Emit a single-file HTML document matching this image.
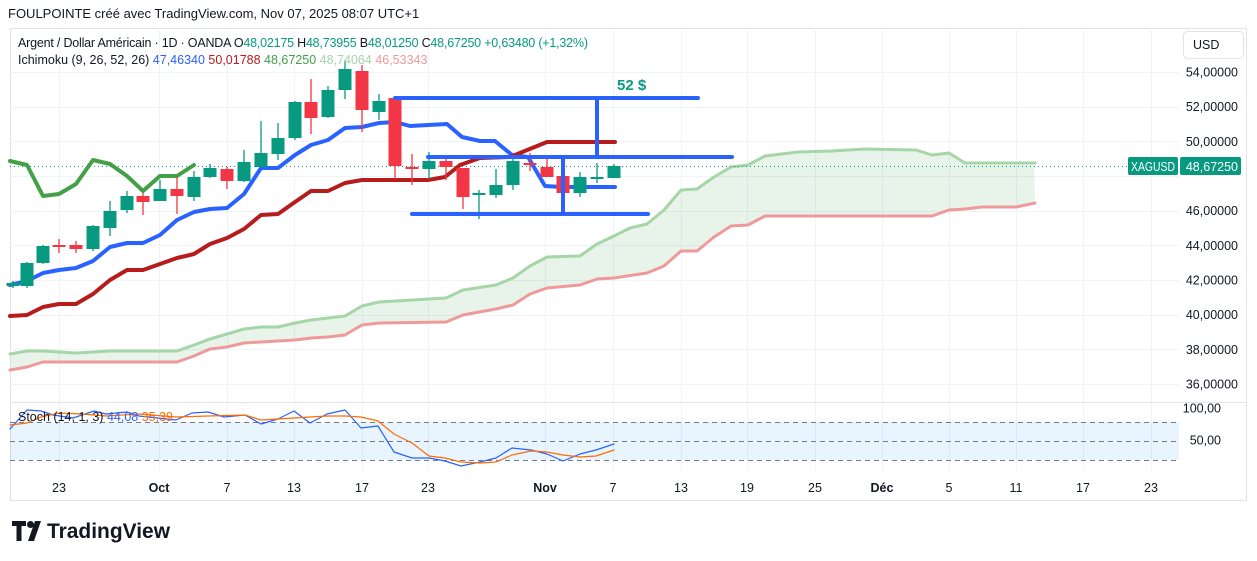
<!DOCTYPE html>
<html><head><meta charset="utf-8"><style>
body{margin:0;width:1257px;height:561px;background:#fff;overflow:hidden;font-family:"Liberation Sans",Arial,sans-serif;}
svg{position:absolute;left:0;top:0}
text{font-family:"Liberation Sans",Arial,sans-serif}
</style></head><body>
<svg id="s" width="1257" height="561" xmlns="http://www.w3.org/2000/svg">
<rect x="10.5" y="28.5" width="1236" height="472" fill="#fff" stroke="#e0e3eb"/>
<g id="grid" stroke="#f0f3fa" stroke-width="1"></g>
<line x1="10" y1="402.5" x2="1246" y2="402.5" stroke="#e0e3eb"/>
<g id="main"></g>
<text x="8" y="18" font-size="13" fill="#131722">FOULPOINTE créé avec TradingView.com, Nov 07, 2025 08:07 UTC+1</text>
<text x="18" y="47" font-size="12.5" fill="#131722" textLength="570" lengthAdjust="spacing">Argent / Dollar Américain · 1D · OANDA  O<tspan fill="#089981">48,02175</tspan>  H<tspan fill="#089981">48,73955</tspan>  B<tspan fill="#089981">48,01250</tspan>  C<tspan fill="#089981">48,67250</tspan>  <tspan fill="#089981">+0,63480 (+1,32%)</tspan></text>
<text x="18" y="64" font-size="12.5" fill="#131722">Ichimoku (9, 26, 52, 26) <tspan fill="#2962ff">47,46340</tspan> <tspan fill="#b71c1c">50,01788</tspan> <tspan fill="#43a047">48,67250</tspan> <tspan fill="#a5d6a7">48,74064</tspan> <tspan fill="#ef9a9a">46,53343</tspan></text>
<text x="18" y="421" font-size="12.5" fill="#131722">Stoch (14, 1, 3) <tspan fill="#2962ff">44,08</tspan> <tspan fill="#ff6d00">35,39</tspan></text>
<rect x="1183.5" y="31.5" width="60" height="27" rx="4" fill="#fff" stroke="#e0e3eb"/>
<text x="1193" y="49" font-size="12.5" fill="#131722">USD</text>
<g id="axis" font-size="12.5" fill="#131722" text-anchor="end"></g>
<rect x="1128" y="157" width="50" height="18" rx="2" fill="#089981"/>
<text x="1131" y="171" font-size="12.5" fill="#fff" textLength="44" lengthAdjust="spacingAndGlyphs">XAGUSD</text>
<rect x="1180" y="157" width="61" height="18" rx="2" fill="#089981"/>
<text x="1238" y="171" font-size="12.5" fill="#fff" text-anchor="end">48,67250</text>
<g id="time" font-size="12.5" fill="#131722" text-anchor="middle"></g>
<g transform="translate(12,521)" fill="#131722">
<path d="M0 0h14v5h-4.5v15h-5v-15h-4.5z"/>
<circle cx="18.5" cy="3.5" r="3.5"/>
<path d="M23 0h6l-7 20h-6z"/>
</g>
<text x="47" y="538" font-size="21" font-weight="bold" fill="#131722" textLength="123" lengthAdjust="spacingAndGlyphs">TradingView</text>
</svg>
<script>
const NS="http://www.w3.org/2000/svg";
function el(p,t,a){const e=document.createElementNS(NS,t);for(const k in a)e.setAttribute(k,a[k]);document.getElementById(p).appendChild(e);return e;}
const xs=[59,159,227,294,362,428,545,613,681,747,815,882,949,1016,1083,1151];
const tl=["23","Oct","7","13","17","23","Nov","7","13","19","25","Déc","5","11","17","23"];
xs.forEach((x,i)=>{el("grid","line",{x1:x+.5,y1:28,x2:x+.5,y2:470});const t=el("time","text",{x:x,y:492,"font-weight":(tl[i]=="Oct"||tl[i]=="Nov"||tl[i]=="Déc")?"bold":"normal"});t.textContent=tl[i];});
for(let p=36;p<=54;p+=2){const y=72+(54-p)*17.333;el("grid","line",{x1:10,y1:Math.round(y)+.5,x2:1179,y2:Math.round(y)+.5});if(p!=48){const t=el("axis","text",{x:1238,y:y+4.5});t.textContent=p+",00000";}}
[[408,"100,00"],[440,"50,00"]].forEach(a=>{const t=el("axis","text",{x:1221,y:a[0]+4.5});t.textContent=a[1];});
el("main","rect",{x:10,y:422,width:1169,height:38,fill:"#2196f3","fill-opacity":"0.1"});
[422,441,460].forEach(y=>el("main","line",{x1:10,y1:y+.5,x2:1179,y2:y+.5,stroke:"#787b86","stroke-dasharray":"5,4"}));
function pl(pts,c,w,extra){const a={points:pts.map(p=>p.join(",")).join(" "),fill:"none",stroke:c,"stroke-width":w,"stroke-linejoin":"round","stroke-linecap":"round"};return el("main","polyline",Object.assign(a,extra||{}));}
const A=[[10,354],[27,351],[43,351],[76,353],[110,351],[177,351],[194,345],[210,339],[227,334],[244,329],[261,327],[278,327],[295,323],[311,320],[345,316],[362,306],[379,302],[412,300],[446,298],[463,290],[496,285],[513,278],[530,266],[547,257],[580,256],[597,244],[614,236],[630,228],[647,224],[664,210],[681,190],[697,189],[714,177],[731,167],[748,165],[765,156],[798,152],[832,151],[865,149],[916,150],[932,155],[949,153],[965,163],[1035,163]];
const B=[[10,370],[27,367],[43,362],[177,362],[194,356],[210,349],[227,347],[244,343],[261,342],[295,340],[311,338],[328,337],[345,335],[362,325],[379,323],[446,322],[463,315],[496,309],[513,305],[530,294],[547,288],[580,285],[597,279],[614,278],[647,273],[664,266],[681,251],[697,251],[714,237],[731,226],[748,225],[765,216],[932,216],[949,210],[965,209],[982,207],[1016,207],[1035,203]];
function yat(arr,x){for(let i=0;i<arr.length-1;i++){if(x>=arr[i][0]&&x<=arr[i+1][0]){const t=(x-arr[i][0])/(arr[i+1][0]-arr[i][0]);return arr[i][1]+t*(arr[i+1][1]-arr[i][1]);}}return arr[arr.length-1][1];}
let poly=[];for(let x=10;x<=1035;x+=2)poly.push([x,yat(A,x)]);for(let x=1035;x>=10;x-=2)poly.push([x,yat(B,x)]);
el("main","polygon",{points:poly.map(p=>p.join(",")).join(" "),fill:"#43a047","fill-opacity":"0.12"});
pl(A,"#a5d6a7",3);pl(B,"#ef9a9a",3);
el("main","line",{x1:10,y1:166.5,x2:1128,y2:166.5,stroke:"#089981","stroke-dasharray":"1,3"});
pl([[10,285],[27,281],[43,273],[59,270],[76,268],[93,261],[110,247],[127,243],[143,243],[160,235],[177,220],[194,212],[210,209],[227,208],[244,194],[261,168],[278,168],[295,155],[311,145],[328,140],[345,128],[362,127],[379,123],[395,122],[410,126],[447,124],[462,137],[480,141],[495,141],[512,155],[528,157],[545,186],[562,187],[615,187]],"#2962ff",4);
pl([[10,316],[27,315],[43,307],[59,304],[76,304],[93,294],[110,280],[127,270],[143,270],[160,264],[177,258],[194,254],[210,244],[227,238],[244,229],[261,215],[278,214],[295,202],[311,191],[328,191],[345,183],[362,180],[428,180],[445,177],[460,165],[480,158],[510,157],[547,142],[615,142]],"#b71c1c",4);
pl([[10,161],[27,165],[43,196],[59,194],[76,184],[93,160],[110,164],[127,176],[143,191],[160,176],[177,176],[194,165]],"#43a047",4);
const C=[[13,283,286,281,288,1],[27,263,286,262,288,1],[43,246,263,245,264,1],[59,245,247,239,253,0],[76,245,249,241,253,0],[93,226,249,225,251,1],[110,211,228,201,236,1],[127,196,210,191,213,1],[143,196,202,193,215,0],[160,189,201,180,201,1],[177,189,196,177,214,0],[194,177,197,171,201,1],[210,168,177,164,178,1],[227,169,181,167,189,0],[244,162,181,150,182,1],[261,153,167,121,167,1],[278,138,154,123,160,1],[295,102,138,101,140,1],[311,102,118,79,134,0],[328,90,117,86,118,1],[345,69,90,60,99,1],[362,71,110,65,132,0],[379,101,112,94,120,1],[395,98,166,98,179,0],[412,167,169,154,185,0],[429,161,169,152,179,1],[446,161,167,158,180,0],[463,168,197,168,209,0],[479,193,195,190,219,1],[496,185,195,169,198,1],[513,161,185,158,190,1],[530,163,165,153,171,0],[547,167,177,158,177,0],[563,176,193,173,197,0],[580,177,193,172,197,1],[597,177,179,163,183,1],[614,166,178,164,178,1]];
C.forEach(c=>{const col=c[5]?"#089981":"#f23645";el("main","line",{x1:c[0],y1:c[3],x2:c[0],y2:c[4],stroke:col,"stroke-width":1.3});el("main","rect",{x:c[0]-6.5,y:c[1],width:13,height:Math.max(2,c[2]-c[1]),fill:col});});
const bl={stroke:"#2962ff","stroke-width":4,"stroke-linecap":"round"};
[[395,98,698,98],[597,98,597,157],[428,157,732,157],[563,157,563,214],[412,214,648,214]].forEach(l=>el("main","line",Object.assign({x1:l[0],y1:l[1],x2:l[2],y2:l[3]},bl)));
const t=el("main","text",{x:617,y:90,"font-size":"15","font-weight":"bold",fill:"#089981"});t.textContent="52 $";
pl([[10,429],[27,410],[41,411],[53,415],[73,418],[94,411],[106,414],[127,412],[139,416],[176,420],[192,413],[208,412],[224,417],[245,415],[261,424],[278,419],[294,411],[310,423],[327,414],[345,410],[361,428],[378,426],[394,452],[412,458],[429,458],[445,461],[461,466],[480,462],[496,458],[512,448],[531,450],[547,454],[563,461],[580,454],[596,450],[614,444]],"#2962ff",1.2);
pl([[10,425],[27,423],[41,417],[59,413],[82,414],[106,416],[139,414],[176,417],[208,416],[245,415],[261,420],[294,418],[327,416],[345,416],[361,417],[378,421],[394,434],[412,443],[429,456],[445,458],[461,462],[480,463],[496,462],[512,455],[531,451],[547,452],[563,455],[580,457],[596,456],[614,450]],"#ff6d00",1.2);
</script>
</body></html>
